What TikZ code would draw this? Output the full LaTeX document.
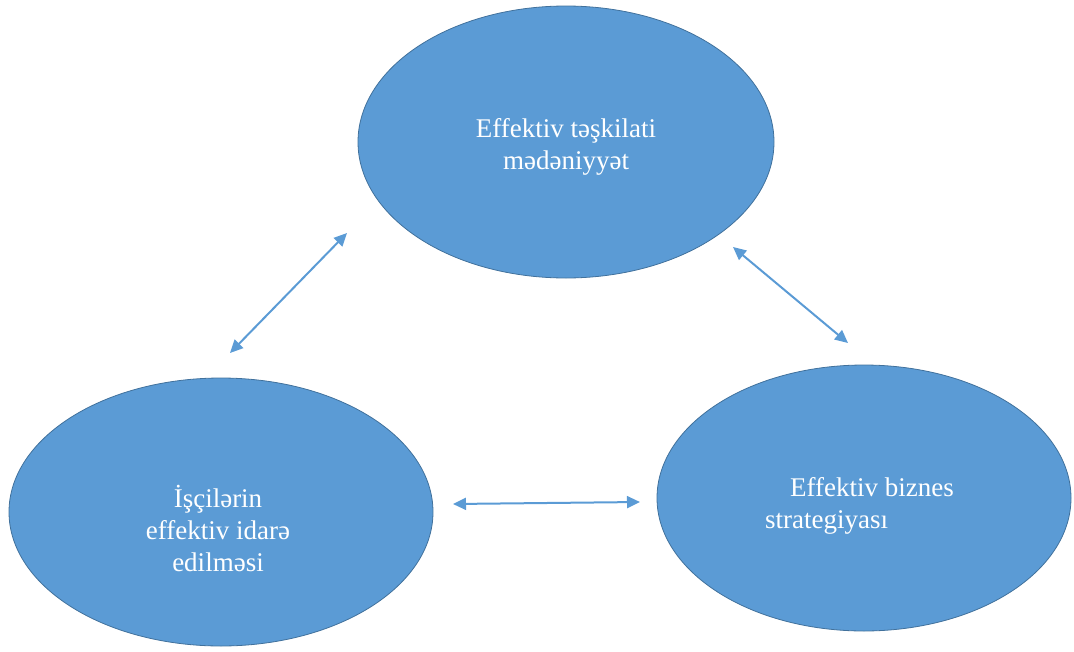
\documentclass[tikz,border=0pt]{standalone}
\usepackage{fontspec}
\setmainfont{Liberation Serif}
\usetikzlibrary{shapes.geometric,arrows.meta}
\definecolor{bubbleFill}{RGB}{91,155,213}
\definecolor{bubbleLine}{RGB}{65,113,156}
\tikzstyle{canvas} = [x = 1pt, y = -1pt]
\tikzstyle{bubbleStyle} = [ellipse, fill=bubbleFill, draw=bubbleLine, line width=0.8pt, inner sep=0pt]
\tikzstyle{bubbleText} = [text=white, font=\fontsize{27}{32}\selectfont]
\tikzstyle{linkArrow} = [color=bubbleFill, line width=2pt, {Triangle[length=13pt, width=12pt]}-{Triangle[length=13pt, width=12pt]}]
\newcommand{\bubble}[5]{\node [bubbleStyle, minimum width=#4pt, minimum height=#5pt] (#1) at (#2,#3) {};}
\newcommand{\linkArrow}[2]{\draw [linkArrow] (#1) -- (#2);}

\begin{document}
\begin{tikzpicture}[canvas]
      \useasboundingbox (0,0) rectangle (1074,651);

      \bubble{culture}{566}{142}{416}{272}
      \bubble{staff}{221}{512}{424}{268}
      \bubble{strategy}{864}{498}{414}{266}

      \node [bubbleText, align=center] (cultureText) at (566,147) {Effektiv təşkilati\\mədəniyyət};
      \node [bubbleText, align=center] (staffText) at (218,528) {İşçilərin\\effektiv idarə\\edilməsi};
      \node [bubbleText, align=left, anchor=west, inner sep=0pt] (strategyText) at (765,506) {\hspace*{25pt}Effektiv biznes\\strategiyası};

      \coordinate (cultureWest) at (347,233);
      \coordinate (staffNorth) at (230,353);
      \coordinate (cultureEast) at (733,247);
      \coordinate (strategyNorth) at (848,343);
      \coordinate (staffEast) at (453,504);
      \coordinate (strategyWest) at (640,502);

      \linkArrow{cultureWest}{staffNorth}
      \linkArrow{cultureEast}{strategyNorth}
      \linkArrow{staffEast}{strategyWest}
    \end{tikzpicture}
\end{document}
